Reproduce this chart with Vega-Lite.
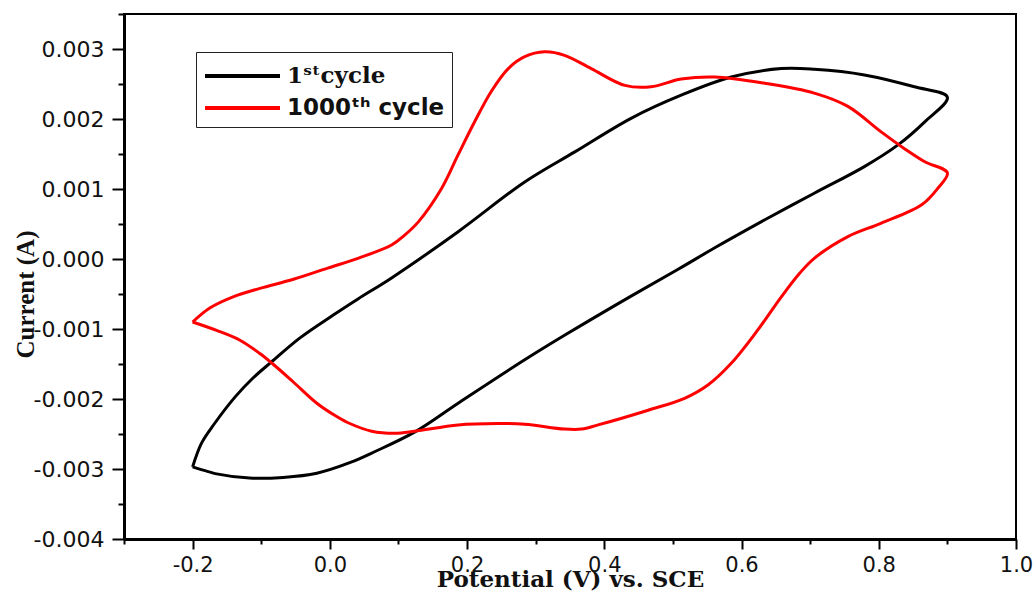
{
  "$schema": "https://vega.github.io/schema/vega-lite/v6.json",
  "width": 892,
  "height": 525,
  "autosize": "none",
  "padding": {"left": 124, "top": 14, "right": 17, "bottom": 54},
  "background": "white",
  "config": {"view": {"stroke": "black", "strokeWidth": 2}},
  "data": {"values": [
    {"cycle": "1ˢᵗcycle", "i": 1, "E": -0.200, "I": -0.00297},
    {"cycle": "1ˢᵗcycle", "i": 2, "E": -0.187, "I": -0.00263},
    {"cycle": "1ˢᵗcycle", "i": 3, "E": -0.168, "I": -0.00235},
    {"cycle": "1ˢᵗcycle", "i": 4, "E": -0.138, "I": -0.00197},
    {"cycle": "1ˢᵗcycle", "i": 5, "E": -0.112, "I": -0.00170},
    {"cycle": "1ˢᵗcycle", "i": 6, "E": -0.085, "I": -0.00147},
    {"cycle": "1ˢᵗcycle", "i": 7, "E": -0.044, "I": -0.00113},
    {"cycle": "1ˢᵗcycle", "i": 8, "E": 0.005, "I": -0.00080},
    {"cycle": "1ˢᵗcycle", "i": 9, "E": 0.041, "I": -0.00057},
    {"cycle": "1ˢᵗcycle", "i": 10, "E": 0.090, "I": -0.00027},
    {"cycle": "1ˢᵗcycle", "i": 11, "E": 0.187, "I": 0.00039},
    {"cycle": "1ˢᵗcycle", "i": 12, "E": 0.284, "I": 0.00110},
    {"cycle": "1ˢᵗcycle", "i": 13, "E": 0.357, "I": 0.00153},
    {"cycle": "1ˢᵗcycle", "i": 14, "E": 0.439, "I": 0.00201},
    {"cycle": "1ˢᵗcycle", "i": 15, "E": 0.512, "I": 0.00234},
    {"cycle": "1ˢᵗcycle", "i": 16, "E": 0.585, "I": 0.00260},
    {"cycle": "1ˢᵗcycle", "i": 17, "E": 0.658, "I": 0.00272},
    {"cycle": "1ˢᵗcycle", "i": 18, "E": 0.706, "I": 0.00271},
    {"cycle": "1ˢᵗcycle", "i": 19, "E": 0.779, "I": 0.00263},
    {"cycle": "1ˢᵗcycle", "i": 20, "E": 0.852, "I": 0.00246},
    {"cycle": "1ˢᵗcycle", "i": 21, "E": 0.900, "I": 0.00231},
    {"cycle": "1ˢᵗcycle", "i": 22, "E": 0.867, "I": 0.00196},
    {"cycle": "1ˢᵗcycle", "i": 23, "E": 0.828, "I": 0.00163},
    {"cycle": "1ˢᵗcycle", "i": 24, "E": 0.779, "I": 0.00132},
    {"cycle": "1ˢᵗcycle", "i": 25, "E": 0.706, "I": 0.00094},
    {"cycle": "1ˢᵗcycle", "i": 26, "E": 0.634, "I": 0.00056},
    {"cycle": "1ˢᵗcycle", "i": 27, "E": 0.561, "I": 0.00016},
    {"cycle": "1ˢᵗcycle", "i": 28, "E": 0.507, "I": -0.00015},
    {"cycle": "1ˢᵗcycle", "i": 29, "E": 0.439, "I": -0.00053},
    {"cycle": "1ˢᵗcycle", "i": 30, "E": 0.342, "I": -0.00109},
    {"cycle": "1ˢᵗcycle", "i": 31, "E": 0.284, "I": -0.00144},
    {"cycle": "1ˢᵗcycle", "i": 32, "E": 0.187, "I": -0.00206},
    {"cycle": "1ˢᵗcycle", "i": 33, "E": 0.124, "I": -0.00247},
    {"cycle": "1ˢᵗcycle", "i": 34, "E": 0.066, "I": -0.00275},
    {"cycle": "1ˢᵗcycle", "i": 35, "E": 0.029, "I": -0.00291},
    {"cycle": "1ˢᵗcycle", "i": 36, "E": -0.019, "I": -0.00306},
    {"cycle": "1ˢᵗcycle", "i": 37, "E": -0.068, "I": -0.00312},
    {"cycle": "1ˢᵗcycle", "i": 38, "E": -0.117, "I": -0.00313},
    {"cycle": "1ˢᵗcycle", "i": 39, "E": -0.165, "I": -0.00307},
    {"cycle": "1ˢᵗcycle", "i": 40, "E": -0.200, "I": -0.00297},
    {"cycle": "1000ᵗʰ cycle", "i": 1, "E": -0.200, "I": -0.00090},
    {"cycle": "1000ᵗʰ cycle", "i": 2, "E": -0.175, "I": -0.00070},
    {"cycle": "1000ᵗʰ cycle", "i": 3, "E": -0.141, "I": -0.00054},
    {"cycle": "1000ᵗʰ cycle", "i": 4, "E": -0.102, "I": -0.00042},
    {"cycle": "1000ᵗʰ cycle", "i": 5, "E": -0.053, "I": -0.00029},
    {"cycle": "1000ᵗʰ cycle", "i": 6, "E": -0.003, "I": -0.00013},
    {"cycle": "1000ᵗʰ cycle", "i": 7, "E": 0.041, "I": 0.00001},
    {"cycle": "1000ᵗʰ cycle", "i": 8, "E": 0.090, "I": 0.00020},
    {"cycle": "1000ᵗʰ cycle", "i": 9, "E": 0.109, "I": 0.00034},
    {"cycle": "1000ᵗʰ cycle", "i": 10, "E": 0.129, "I": 0.00053},
    {"cycle": "1000ᵗʰ cycle", "i": 11, "E": 0.163, "I": 0.00101},
    {"cycle": "1000ᵗʰ cycle", "i": 12, "E": 0.187, "I": 0.00149},
    {"cycle": "1000ᵗʰ cycle", "i": 13, "E": 0.211, "I": 0.00196},
    {"cycle": "1000ᵗʰ cycle", "i": 14, "E": 0.235, "I": 0.00239},
    {"cycle": "1000ᵗʰ cycle", "i": 15, "E": 0.260, "I": 0.00272},
    {"cycle": "1000ᵗʰ cycle", "i": 16, "E": 0.284, "I": 0.00289},
    {"cycle": "1000ᵗʰ cycle", "i": 17, "E": 0.313, "I": 0.00296},
    {"cycle": "1000ᵗʰ cycle", "i": 18, "E": 0.342, "I": 0.00291},
    {"cycle": "1000ᵗʰ cycle", "i": 19, "E": 0.381, "I": 0.00272},
    {"cycle": "1000ᵗʰ cycle", "i": 20, "E": 0.430, "I": 0.00248},
    {"cycle": "1000ᵗʰ cycle", "i": 21, "E": 0.468, "I": 0.00246},
    {"cycle": "1000ᵗʰ cycle", "i": 22, "E": 0.512, "I": 0.00257},
    {"cycle": "1000ᵗʰ cycle", "i": 23, "E": 0.561, "I": 0.00260},
    {"cycle": "1000ᵗʰ cycle", "i": 24, "E": 0.634, "I": 0.00251},
    {"cycle": "1000ᵗʰ cycle", "i": 25, "E": 0.706, "I": 0.00237},
    {"cycle": "1000ᵗʰ cycle", "i": 26, "E": 0.755, "I": 0.00218},
    {"cycle": "1000ᵗʰ cycle", "i": 27, "E": 0.803, "I": 0.00182},
    {"cycle": "1000ᵗʰ cycle", "i": 28, "E": 0.837, "I": 0.00158},
    {"cycle": "1000ᵗʰ cycle", "i": 29, "E": 0.867, "I": 0.00139},
    {"cycle": "1000ᵗʰ cycle", "i": 30, "E": 0.900, "I": 0.00123},
    {"cycle": "1000ᵗʰ cycle", "i": 31, "E": 0.886, "I": 0.00101},
    {"cycle": "1000ᵗʰ cycle", "i": 32, "E": 0.862, "I": 0.00077},
    {"cycle": "1000ᵗʰ cycle", "i": 33, "E": 0.803, "I": 0.00051},
    {"cycle": "1000ᵗʰ cycle", "i": 34, "E": 0.755, "I": 0.00032},
    {"cycle": "1000ᵗʰ cycle", "i": 35, "E": 0.706, "I": 0.00001},
    {"cycle": "1000ᵗʰ cycle", "i": 36, "E": 0.685, "I": -0.00020},
    {"cycle": "1000ᵗʰ cycle", "i": 37, "E": 0.658, "I": -0.00054},
    {"cycle": "1000ᵗʰ cycle", "i": 38, "E": 0.624, "I": -0.00101},
    {"cycle": "1000ᵗʰ cycle", "i": 39, "E": 0.585, "I": -0.00149},
    {"cycle": "1000ᵗʰ cycle", "i": 40, "E": 0.551, "I": -0.00180},
    {"cycle": "1000ᵗʰ cycle", "i": 41, "E": 0.517, "I": -0.00199},
    {"cycle": "1000ᵗʰ cycle", "i": 42, "E": 0.464, "I": -0.00216},
    {"cycle": "1000ᵗʰ cycle", "i": 43, "E": 0.391, "I": -0.00237},
    {"cycle": "1000ᵗʰ cycle", "i": 44, "E": 0.367, "I": -0.00243},
    {"cycle": "1000ᵗʰ cycle", "i": 45, "E": 0.342, "I": -0.00243},
    {"cycle": "1000ᵗʰ cycle", "i": 46, "E": 0.284, "I": -0.00236},
    {"cycle": "1000ᵗʰ cycle", "i": 47, "E": 0.245, "I": -0.00235},
    {"cycle": "1000ᵗʰ cycle", "i": 48, "E": 0.187, "I": -0.00237},
    {"cycle": "1000ᵗʰ cycle", "i": 49, "E": 0.124, "I": -0.00246},
    {"cycle": "1000ᵗʰ cycle", "i": 50, "E": 0.095, "I": -0.00249},
    {"cycle": "1000ᵗʰ cycle", "i": 51, "E": 0.061, "I": -0.00246},
    {"cycle": "1000ᵗʰ cycle", "i": 52, "E": 0.029, "I": -0.00235},
    {"cycle": "1000ᵗʰ cycle", "i": 53, "E": 0.010, "I": -0.00225},
    {"cycle": "1000ᵗʰ cycle", "i": 54, "E": -0.019, "I": -0.00206},
    {"cycle": "1000ᵗʰ cycle", "i": 55, "E": -0.054, "I": -0.00175},
    {"cycle": "1000ᵗʰ cycle", "i": 56, "E": -0.083, "I": -0.00150},
    {"cycle": "1000ᵗʰ cycle", "i": 57, "E": -0.102, "I": -0.00135},
    {"cycle": "1000ᵗʰ cycle", "i": 58, "E": -0.131, "I": -0.00116},
    {"cycle": "1000ᵗʰ cycle", "i": 59, "E": -0.165, "I": -0.00102},
    {"cycle": "1000ᵗʰ cycle", "i": 60, "E": -0.200, "I": -0.00090}
  ]},
  "mark": {"type": "line", "strokeWidth": 3, "interpolate": "catmull-rom", "strokeJoin": "miter"},
  "encoding": {
    "x": {
      "field": "E", "type": "quantitative",
      "scale": {"domain": [-0.3, 1.0], "nice": false, "zero": false},
      "axis": {
        "values": [-0.3, -0.2, -0.1, 0, 0.1, 0.2, 0.3, 0.4, 0.5, 0.6, 0.7, 0.8, 0.9, 1.0],
        "labelExpr": "abs(datum.value*5 - round(datum.value*5)) < 1e-6 ? replace(format(datum.value, '.1f'), '−', '-') : ''",
        "tickSize": {"condition": {"test": "abs(datum.value*5 - round(datum.value*5)) < 1e-6", "value": 10}, "value": 5},
        "tickWidth": 2, "tickColor": "black",
        "domainColor": "black", "domainWidth": 3,
        "labelFont": "DejaVu Sans", "labelFontSize": 21, "labelColor": "#111", "labelPadding": 5,
        "labelFlush": false, "labelOverlap": false, "labelBound": false,
        "grid": false,
        "title": "Potential (V) vs. SCE",
        "titleFont": "DejaVu Serif", "titleFontWeight": "bold", "titleFontSize": 23, "titleColor": "#111",
        "titleY": 47, "titleBaseline": "alphabetic"
      }
    },
    "y": {
      "field": "I", "type": "quantitative",
      "scale": {"domain": [-0.004, 0.0035], "nice": false, "zero": false},
      "axis": {
        "values": [-0.004, -0.0035, -0.003, -0.0025, -0.002, -0.0015, -0.001, -0.0005, 0, 0.0005, 0.001, 0.0015, 0.002, 0.0025, 0.003, 0.0035],
        "labelExpr": "abs(datum.value*1000 - round(datum.value*1000)) < 1e-6 ? replace(format(datum.value, '.3f'), '−', '-') : ''",
        "tickSize": {"condition": {"test": "abs(datum.value*1000 - round(datum.value*1000)) < 1e-6", "value": 12}, "value": 6},
        "tickWidth": 2, "tickColor": "black",
        "domainColor": "black", "domainWidth": 3,
        "labelFont": "DejaVu Sans", "labelFontSize": 22, "labelColor": "#111", "labelPadding": 8,
        "labelFlush": false, "labelOverlap": false, "labelBound": false,
        "grid": false,
        "title": "Current (A)",
        "titleFont": "Liberation Serif", "titleFontWeight": "bold", "titleFontSize": 25, "titleColor": "#111",
        "titleAngle": 270, "titleX": -91, "titleY": 280, "titleAlign": "center", "titleBaseline": "alphabetic"
      }
    },
    "color": {
      "field": "cycle", "type": "nominal",
      "scale": {"domain": ["1ˢᵗcycle", "1000ᵗʰ cycle"], "range": ["#000000", "#ff0000"]},
      "legend": {
        "title": null,
        "orient": "none", "legendX": 72, "legendY": 38,
        "symbolType": "M-1,0H4", "symbolSize": 900, "symbolStrokeWidth": 4,
        "labelFontSize": 23, "labelFontWeight": "bold", "labelColor": "#111", "labelFont": "DejaVu Sans",
        "labelOffset": 50, "labelLimit": 300,
        "strokeColor": "#222", "padding": 7, "rowPadding": 3,
        "encode": {"labels": {"update": {"font": {"signal": "datum.index === 0 ? 'DejaVu Serif' : 'DejaVu Sans'"}}}}
      }
    },
    "order": {"field": "i", "type": "quantitative"}
  }
}
